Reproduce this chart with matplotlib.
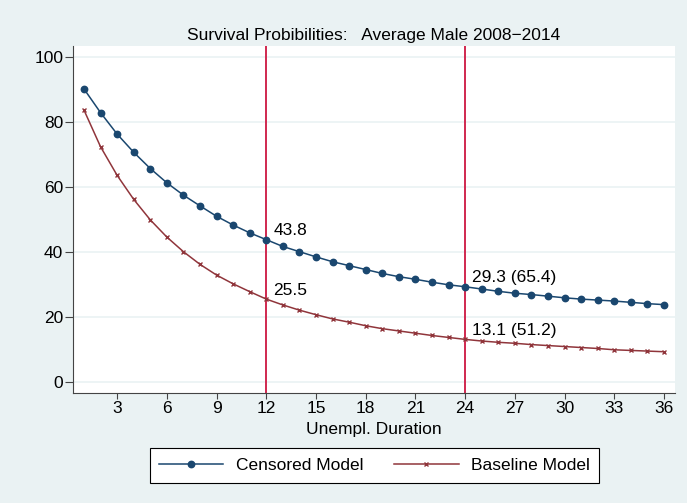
import numpy as np
import matplotlib.pyplot as plt

plt.rcParams['font.family'] = ['Liberation Sans', 'DejaVu Sans']

months = np.arange(1, 37)
censored = [90.2, 82.9, 76.3, 70.7, 65.7, 61.3, 57.5, 54.2, 51.0, 48.3,
            45.9, 43.8, 41.7, 40.1, 38.5, 37.0, 35.8, 34.6, 33.4, 32.4,
            31.6, 30.7, 29.9, 29.3, 28.6, 27.9, 27.3, 26.9, 26.4, 25.9,
            25.5, 25.2, 24.9, 24.5, 24.1, 23.8]
baseline = [83.7, 72.4, 63.6, 56.2, 49.9, 44.6, 40.1, 36.2, 32.9, 30.2,
            27.8, 25.5, 23.7, 22.1, 20.7, 19.4, 18.4, 17.3, 16.4, 15.7,
            15.0, 14.3, 13.7, 13.1, 12.6, 12.2, 11.9, 11.5, 11.2, 10.9,
            10.6, 10.3, 9.9, 9.7, 9.5, 9.3]
cut_months = [12, 24]
labels_cens = ["43.8", "29.3 (65.4)"]
labels_base = ["25.5", "13.1 (51.2)"]

bg = '#eaf2f3'
navy = '#1a476f'
maroon = '#90353b'
vred = '#d0284f'
fs = 12.5

fig = plt.figure(figsize=(6.87, 5.03), dpi=100, facecolor=bg)
ax = fig.add_axes([0.1063, 0.2187, 0.8762, 0.6898])
ax.set_facecolor('white')

for y in range(0, 101, 20):
    ax.axhline(y, color=bg, lw=1.2, zorder=0)
for m in cut_months:
    ax.axvline(m, color=vred, lw=1.4, zorder=1)

ax.plot(months, censored, color=navy, lw=1.1, marker='o', ms=4.6, label='Censored Model', zorder=3)
ax.plot(months, baseline, color=maroon, lw=1.1, marker='x', ms=3.5, mew=1.0, label='Baseline Model', zorder=3)

for m, t in zip(cut_months, labels_cens):
    ax.annotate(t, (m, censored[m - 1]), xytext=(5, 1), textcoords='offset points', fontsize=fs, va='bottom')
for m, t in zip(cut_months, labels_base):
    ax.annotate(t, (m, baseline[m - 1]), xytext=(5, 1), textcoords='offset points', fontsize=fs, va='bottom')

ax.set_xlim(0.34, 36.66)
ax.set_ylim(-3.4, 103.4)
ax.set_xticks(np.arange(3, 37, 3))
ax.set_yticks(np.arange(0, 101, 20))
ax.tick_params(labelsize=fs, color='#444444')
ax.tick_params(axis='y', length=6, pad=1)
ax.tick_params(axis='x', length=4, pad=2)
for s in ['top', 'right']:
    ax.spines[s].set_visible(False)
for s in ['left', 'bottom']:
    ax.spines[s].set_color('#444444')

ax.set_xlabel('Unempl. Duration', fontsize=fs, labelpad=4)
ax.set_title('Survival Probibilities:   Average Male 2008\u22122014', fontsize=fs, pad=4)

leg = fig.legend(loc='center', bbox_to_anchor=(0.545, 0.0746), ncol=2, fontsize=fs,
                 fancybox=False, edgecolor='black', framealpha=1, handlelength=3.7,
                 handletextpad=0.7, columnspacing=1.8, borderpad=0.55)
leg.get_frame().set_linewidth(0.8)

fig.savefig('out.png', dpi=100, facecolor=bg)
